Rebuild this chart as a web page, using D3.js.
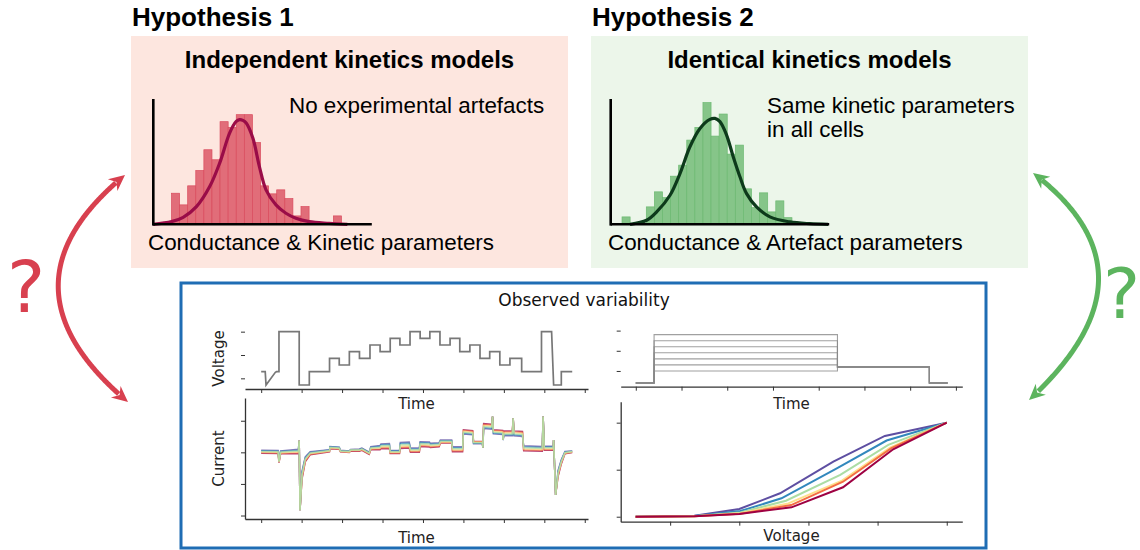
<!DOCTYPE html>
<html>
<head>
<meta charset="utf-8">
<script src="https://cdn.jsdelivr.net/npm/d3@7"></script>
<style>
body { margin: 0; background: #fff; }
svg { display: block; }
.sans { font-family: "Liberation Sans", Arial, sans-serif; }
.mpl { font-family: "DejaVu Sans", sans-serif; }
</style>
</head>
<body>
<svg id="fig" width="1140" height="550"></svg>
<script>
// ---- histograms (bar heights in % of axis height, x in bin units) ----
var hyp1Bins = [24.8, 15.5, 30.7, 42.9, 59.5, 51.5, 81.9, 77.3, 87.5, 87.5, 65.3, 30.7, 24.3, 27.5, 20.5, 6.7, 14.1, 0, 0, 0, 6.7];
var hyp1FirstBin = 2.25;
var hyp1Curve = [[0,0],[2.25,2.1],[3.69,5.6],[5.33,14.1],[6.97,30.1],[8.2,48.8],[9.43,72.8],[10.25,82.1],[10.66,83.5],[11.07,82.9],[11.48,80.8],[12.3,68.8],[13.11,46.1],[13.93,27.5],[15.16,15.5],[16.39,8.8],[17.62,4.8],[19.26,2.1],[21.72,0.8],[23.98,0]];

var hyp2Bins = [5.9, 0, 0, 13.9, 25.9, 21.3, 38.4, 47.2, 67.2, 77.3, 97.1, 70.4, 88, 56, 63.2, 28.3, 13.3, 25.1, 9.9, 18.7, 5.3];
var hyp2FirstBin = 1.4;
var hyp2Curve = [[2.39,0],[4.44,3.2],[5.68,9.9],[7.33,23.2],[8.56,40.5],[9.79,61.9],[11.03,76.5],[12.26,83.7],[12.88,84.5],[13.5,81.9],[14.32,71.2],[15.14,53.9],[15.97,37.9],[16.79,24.5],[18.02,13.9],[19.67,5.9],[22.14,1.9],[24.6,0.5],[26.87,0]];

// ---- staircase protocol (time in tick units, mV) ----
var protocol = [[0,-80],[0.10,-80],[0.12,-120],[0.35,-82],[0.38,-80],[0.44,-80],[0.44,40],[0.94,40],[0.94,-120],[1.19,-120],[1.19,-80],
  [1.69,-80],[1.69,-40],[1.93,-40],[1.93,-60],[2.18,-60],[2.18,-20],[2.43,-20],[2.43,-40],[2.69,-40],[2.69,0],[2.94,0],[2.94,-20],
  [3.19,-20],[3.19,20],[3.43,20],[3.43,0],[3.68,0],[3.68,40],[3.93,40],[3.93,20],[4.17,20],[4.17,40],[4.42,40],[4.42,0],[4.67,0],
  [4.67,20],[4.91,20],[4.91,-20],[5.16,-20],[5.16,0],[5.41,0],[5.41,-40],[5.65,-40],[5.65,-20],[5.90,-20],[5.90,-60],[6.15,-60],
  [6.15,-40],[6.44,-40],[6.44,-80],[6.93,-80],[6.93,40],[7.18,40],[7.23,-120],[7.42,-120],[7.42,-80],[7.69,-80]];
var protocolTicksX = [0,1,2,3,4,5,6,7,8];
var protocolTicksY = [-100,-30,40];

// ---- observed current: [time, current, red-minus-purple spread] ----
var currentTrace = [[0,0.02,-0.08],[0.42,0.01,-0.08],[0.44,-0.30,-0.04],[0.48,0,-0.08],[0.92,0.03,-0.11],[0.94,0.37,0],[0.96,-1.83,0],
  [1.01,-0.72,-0.21],[1.09,-0.22,-0.13],[1.21,-0.03,-0.08],[1.69,0.05,-0.06],[1.70,0.15,-0.06],[1.93,0.13,-0.06],[1.96,0.04,-0.04],
  [2.18,0.02,-0.04],[2.21,0.07,-0.04],[2.43,0.07,-0.06],[2.49,0.10,-0.06],[2.67,-0.03,-0.06],[2.71,0.13,-0.08],[2.94,0.15,-0.11],
  [2.96,0.19,-0.13],[3.17,0.20,-0.13],[3.19,0.01,-0.08],[3.42,0.01,-0.08],[3.44,0.22,-0.16],[3.66,0.23,-0.16],[3.69,0.07,-0.11],
  [3.91,0.07,-0.11],[3.93,0.26,-0.13],[4.16,0.25,-0.13],[4.18,0.22,-0.11],[4.40,0.24,-0.11],[4.43,0.34,-0.08],[4.71,0.34,-0.08],
  [4.73,0.10,-0.13],[4.98,0.10,-0.13],[5.00,0.65,0.11],[5.23,0.62,0.11],[5.25,0.31,0.06],[5.47,0.31,0.06],[5.48,0.15,0],
  [5.50,0.83,0.13],[5.70,0.81,0.13],[5.72,1.13,0],[5.74,0.65,0.11],[5.97,0.63,0.11],[5.98,0.39,0],[6.00,0.60,0.13],[6.21,0.60,0.13],
  [6.23,1.08,0],[6.25,0.60,0.13],[6.46,0.58,0.13],[6.49,0.13,-0.13],[6.95,0.11,-0.13],[6.97,1.13,0],[7.00,0.13,-0.11],[7.22,0.13,-0.11],
  [7.23,0.39,0],[7.28,-1.35,0],[7.34,-0.67,-0.16],[7.42,-0.30,-0.11],[7.51,-0.01,-0.06],[7.69,0.02,-0.04]];
var currentTicksY = [1,0,-1,-2];

// ---- activation protocol ----
var stepLevels = [-50,-35,-20,-5,10,25,40];
var holdLevel = -80, tailLevel = -40;
var stepTimes = [0, 0.4, 4.41, 6.42, 6.82];
var stepTicksX = [0,1,2,3,4,5,6,7];
var stepTicksY = [-50,0,50];

// ---- normalised I-V curves, one per cell ----
var cellColours = ["#5e4fa2","#3288bd","#abdda4","#fee08b","#f46d43","#9e0142"];
var cellShift = [-0.6,-0.36,-0.12,0.12,0.36,0.6];
var ivCurves = [
  [[-70,0],[-53,0.01],[-40,0.082],[-28.2,0.249],[-12.8,0.585],[2.1,0.859],[20,1]],
  [[-70,0],[-53,0.008],[-39.7,0.06],[-27.8,0.196],[-11.8,0.515],[2.6,0.81],[20,1]],
  [[-70,0],[-53,0.006],[-39.7,0.045],[-26.5,0.17],[-10.8,0.444],[3.1,0.764],[20,1]],
  [[-70,0],[-53,0.005],[-39.7,0.036],[-25.8,0.142],[-10.3,0.383],[3.6,0.734],[20,1]],
  [[-70,0],[-53,0.005],[-39.7,0.032],[-25,0.124],[-10,0.372],[4,0.73],[20,1]],
  [[-70,0],[-53,0.004],[-40,0.029],[-24.9,0.1],[-10,0.313],[4.5,0.717],[20,1]]
];
var ivTicksX = [-60,-40,-20,0,20];
var ivTicksY = [0,0.5,1];

var svg = d3.select("#fig");
svg.append("rect").attr("width",1140).attr("height",550).attr("fill","#fff");

// ================= top hypotheses =================
function hypothesis(o) {
  var g = svg.append("g").attr("class","sans");
  g.append("text").attr("x",o.x0+1).attr("y",26).attr("font-size",26).attr("font-weight","bold").text(o.title);
  g.append("rect").attr("x",o.x0).attr("y",36).attr("width",o.w).attr("height",232).attr("fill",o.bg);
  g.append("text").attr("x",o.x0+o.w/2).attr("y",68).attr("text-anchor","middle")
    .attr("font-size",24).attr("font-weight","bold").text(o.sub);
  o.note.forEach(function(t,i){
    g.append("text").attr("x",o.noteX).attr("y",113+i*23.5).attr("font-size",22.4).text(t);
  });
  g.append("text").attr("x",o.x0+17).attr("y",250).attr("font-size",22.4).text(o.xlabel);

  var x = d3.scaleLinear().domain([0,27]).range([o.ax, o.ax+218.5]);
  var y = d3.scaleLinear().domain([0,100]).range([224.3, 99]);
  g.selectAll("rect.bar").data(o.bins).enter().append("rect").attr("class","bar")
    .attr("x", function(d,i){ return x(o.first+i); })
    .attr("width", function(d,i){ return x(o.first+i+1)-x(o.first+i); })
    .attr("y", function(d){ return y(d); })
    .attr("height", function(d){ return y(0)-y(d); })
    .attr("fill", o.barFill).attr("stroke", o.barStroke).attr("stroke-width", 0.7)
    .attr("display", function(d){ return d > 0 ? null : "none"; });
  g.append("path").datum(o.curve)
    .attr("d", d3.line().x(function(d){return x(d[0]);}).y(function(d){return y(d[1]);}).curve(d3.curveCatmullRom.alpha(0.5)))
    .attr("fill","none").attr("stroke",o.curveColour).attr("stroke-width",3.2);
  g.append("line").attr("x1",x(0)).attr("x2",x(27)).attr("y1",y(0)).attr("y2",y(0)).attr("stroke","#000").attr("stroke-width",2.6);
  g.append("line").attr("x1",x(0)).attr("x2",x(0)).attr("y1",y(0)+1.3).attr("y2",y(100)).attr("stroke","#000").attr("stroke-width",2.6);
}

hypothesis({x0:131, w:437, title:"Hypothesis 1", sub:"Independent kinetics models", bg:"#fde6df",
  note:["No experimental artefacts"], noteX:289, xlabel:"Conductance & Kinetic parameters",
  ax:153.3, bins:hyp1Bins, first:hyp1FirstBin, curve:hyp1Curve,
  barFill:"#e16d79", barStroke:"#d94b5d", curveColour:"#9a0c48"});
hypothesis({x0:591, w:437, title:"Hypothesis 2", sub:"Identical kinetics models", bg:"#ecf6ea",
  note:["Same kinetic parameters","in all cells"], noteX:767, xlabel:"Conductance & Artefact parameters",
  ax:610.7, bins:hyp2Bins, first:hyp2FirstBin, curve:hyp2Curve,
  barFill:"#86c589", barStroke:"#6cb971", curveColour:"#0d3a1b"});

// ================= arrows =================
function arrow(p0, c, p2, colour) {
  function q(t) {
    var a=(1-t)*(1-t), b=2*(1-t)*t, d=t*t;
    return [a*p0[0]+b*c[0]+d*p2[0], a*p0[1]+b*c[1]+d*p2[1]];
  }
  var pts = d3.range(0.035, 0.9651, 0.005).map(q);
  svg.append("path").attr("d", d3.line()(pts)).attr("fill","none").attr("stroke",colour).attr("stroke-width",5);
  [[p0,c],[p2,c]].forEach(function(e){
    var tip=e[0], dx=tip[0]-e[1][0], dy=tip[1]-e[1][1], L=Math.sqrt(dx*dx+dy*dy);
    dx/=L; dy/=L;
    var bx=tip[0]-dx*16, by=tip[1]-dy*16;
    svg.append("path").attr("d","M"+tip[0]+","+tip[1]+"L"+(bx-dy*7.5)+","+(by+dx*7.5)+"L"+(tip[0]-dx*11)+","+(tip[1]-dy*11)+"L"+(bx+dy*7.5)+","+(by-dx*7.5)+"Z")
      .attr("fill",colour);
  });
}
arrow([125,175],[-10,286],[128,402],"#d8404f");
arrow([1033,173],[1166,274],[1029,400],"#5cb45e");
svg.append("text").attr("class","mpl").attr("x",7).attr("y",312).attr("font-size",72).attr("fill","#d8404f").text("?");
svg.append("text").attr("class","mpl").attr("x",1103).attr("y",318).attr("font-size",70).attr("fill","#5cb45e").text("?");

// ================= observed variability =================
svg.append("rect").attr("x",181).attr("y",283).attr("width",805).attr("height",265)
  .attr("fill","#fff").attr("stroke","#1f6db4").attr("stroke-width",3);
var obs = svg.append("g").attr("class","mpl");
obs.append("text").attr("x",584).attr("y",306).attr("text-anchor","middle").attr("font-size",17).attr("fill","#111").text("Observed variability");

function panel(o) {
  var g = obs.append("g");
  var xAx = g.append("g").attr("transform","translate(0,"+o.y.range()[0]+")")
    .call(d3.axisBottom(o.x).tickValues(o.xt).tickFormat("").tickSize(4).tickSizeOuter(0));
  var yAx = g.append("g").attr("transform","translate("+o.x.range()[0]+",0)")
    .call(d3.axisLeft(o.y).tickValues(o.yt).tickFormat("").tickSize(4).tickSizeOuter(0));
  g.selectAll(".domain").attr("stroke","#333").attr("stroke-width",1.3);
  g.selectAll(".tick line").attr("stroke","#333").attr("stroke-width",1);
  if (!o.ySpine) yAx.select(".domain").remove();
  g.append("text").attr("x",(o.x.range()[0]+o.x.range()[1])/2).attr("y",o.y.range()[0]+o.xlDy)
    .attr("text-anchor","middle").attr("font-size",15).attr("fill","#222").text(o.xl);
  if (o.yl) {
    var cy=(o.y.range()[0]+o.y.range()[1])/2;
    g.append("text").attr("transform","translate("+o.ylX+","+cy+") rotate(-90)")
      .attr("text-anchor","middle").attr("font-size",15).attr("fill","#222").text(o.yl);
  }
  return g;
}

var line = function(x,y){ return d3.line().x(function(d){return x(d[0]);}).y(function(d){return y(d[1]);}); };

// staircase voltage
var vx = d3.scaleLinear().domain([-0.4,8.08]).range([245,588]);
var vy = d3.scaleLinear().domain([-132,51]).range([389,328]);
var gv = panel({x:vx,y:vy,xt:protocolTicksX,yt:protocolTicksY,ySpine:false,xl:"Time",xlDy:20,yl:"Voltage",ylX:224});
gv.append("path").datum(protocol).attr("d",line(vx,vy)).attr("fill","none").attr("stroke","#777").attr("stroke-width",1.7);

// staircase current (draw order alternates so the band looks mixed)
var cx = d3.scaleLinear().domain([-0.4,8.08]).range([245,588]);
var cy = d3.scaleLinear().domain([-2.11,1.72]).range([519,398]);
var gc = panel({x:cx,y:cy,xt:protocolTicksX,yt:currentTicksY,ySpine:true,xl:"Time",xlDy:24,yl:"Current",ylX:224});
[5,0,4,1,3,2].forEach(function(k){
  var series = currentTrace.map(function(d){ return [d[0], d[1]+d[2]*cellShift[k]]; });
  gc.append("path").datum(series).attr("d",line(cx,cy)).attr("fill","none")
    .attr("stroke",cellColours[k]).attr("stroke-width",1.5).attr("stroke-opacity",0.75);
});

// activation voltage
var sx = d3.scaleLinear().domain([-0.33,7.14]).range([620.7,962.3]);
var sy = d3.scaleLinear().domain([-89,54]).range([386.7,329]);
var gs = panel({x:sx,y:sy,xt:stepTicksX,yt:stepTicksY,ySpine:false,xl:"Time",xlDy:22});
stepLevels.forEach(function(L){
  var t = stepTimes;
  var trace = [[t[0],holdLevel],[t[1],holdLevel],[t[1],L],[t[2],L],[t[2],tailLevel],[t[3],tailLevel],[t[3],holdLevel],[t[4],holdLevel]];
  gs.append("path").datum(trace).attr("d",line(sx,sy)).attr("fill","none")
    .attr("stroke","#888").attr("stroke-width",1.1).attr("stroke-opacity",0.8);
});

// I-V curves
var ix = d3.scaleLinear().domain([-74.3,24.5]).range([620.7,962.3]);
var iy = d3.scaleLinear().domain([-0.053,1.223]).range([521.7,401.7]);
var gi = panel({x:ix,y:iy,xt:ivTicksX,yt:ivTicksY,ySpine:true,xl:"Voltage",xlDy:19});
ivCurves.forEach(function(c,k){
  gi.append("path").datum(c).attr("d",line(ix,iy)).attr("fill","none")
    .attr("stroke",cellColours[k]).attr("stroke-width",2);
});
</script>
</body>
</html>
